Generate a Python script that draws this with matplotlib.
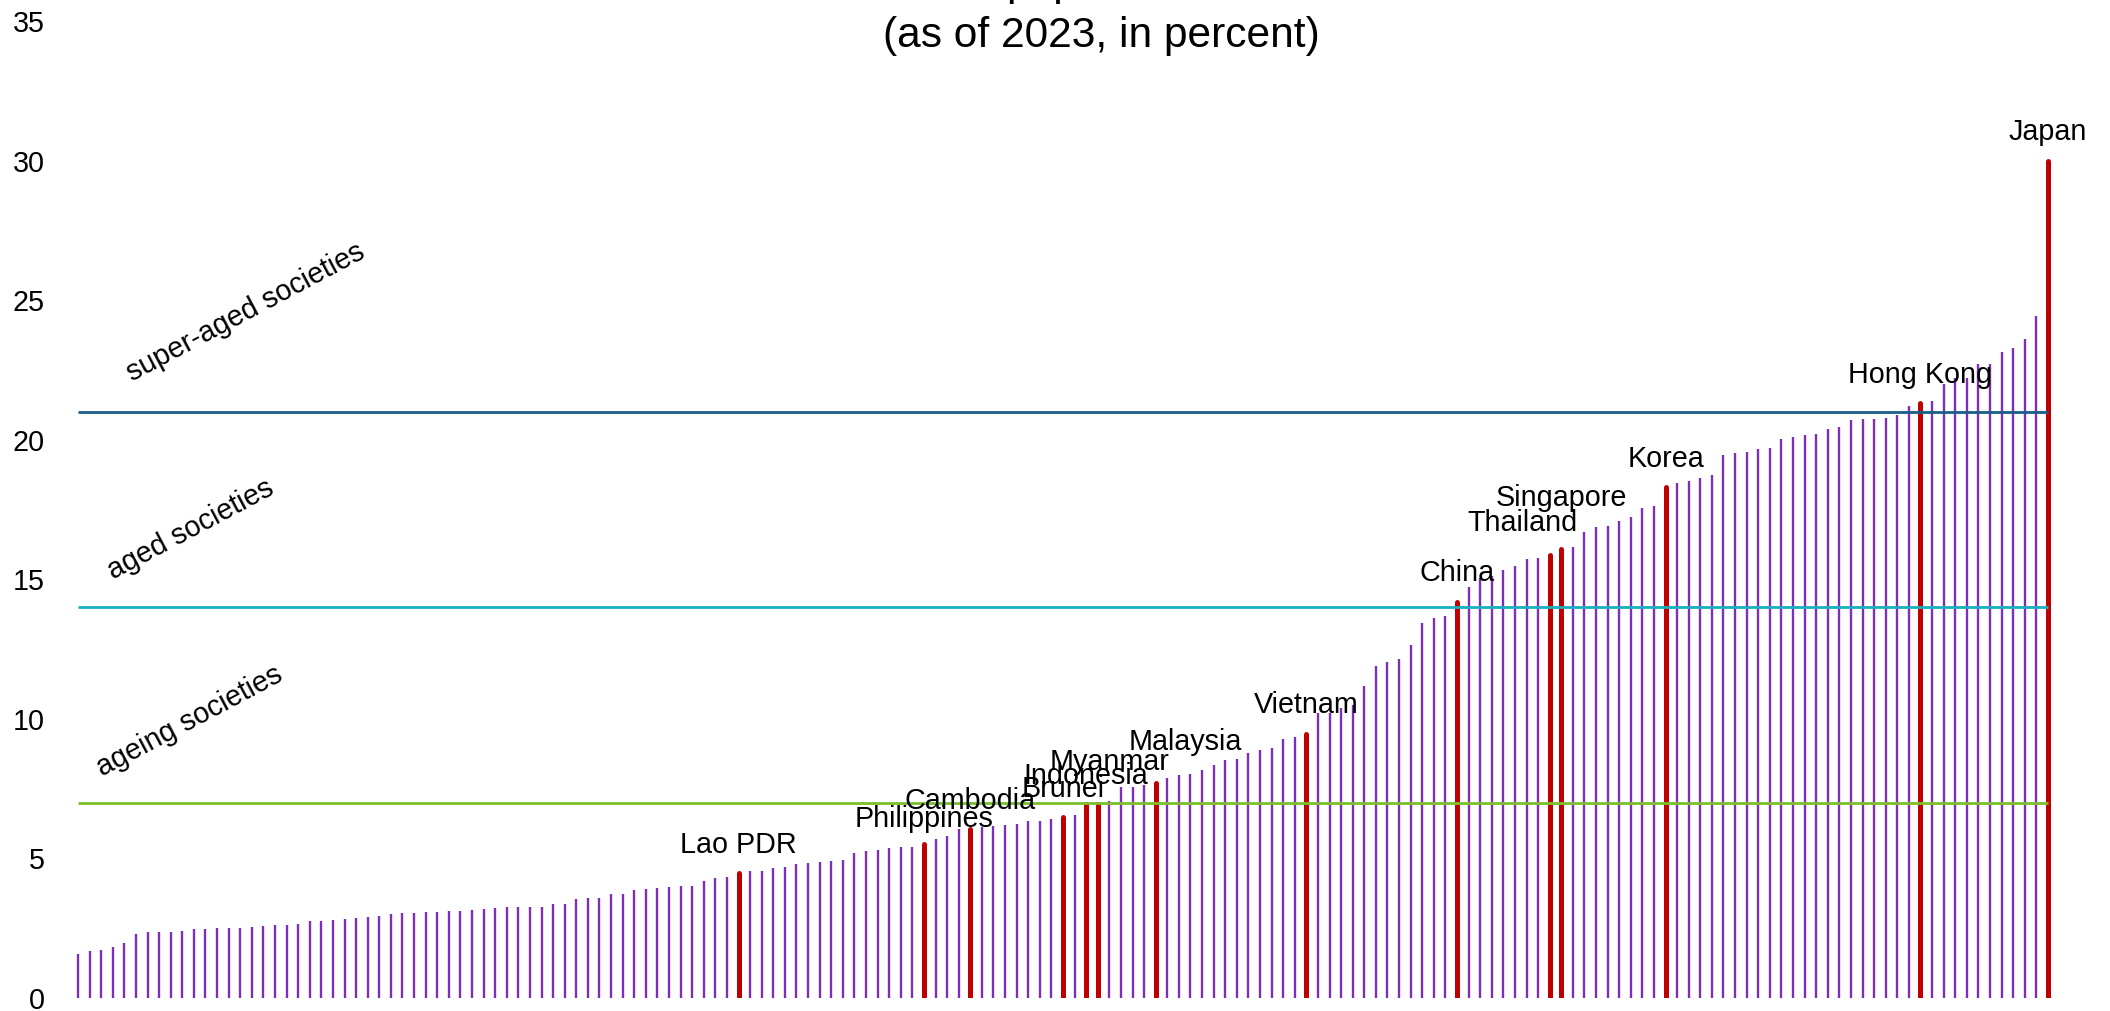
import matplotlib
matplotlib.use("Agg")
import matplotlib.pyplot as plt

# ---------------- data ----------------
values = [
    1.58, 1.68, 1.72, 1.83, 1.96, 2.29, 2.36, 2.36, 2.36, 2.40,
    2.46, 2.48, 2.50, 2.51, 2.51, 2.54, 2.58, 2.62, 2.62, 2.65,
    2.75, 2.76, 2.79, 2.84, 2.86, 2.90, 2.95, 3.01, 3.03, 3.05,
    3.08, 3.09, 3.12, 3.12, 3.14, 3.18, 3.23, 3.26, 3.26, 3.26,
    3.27, 3.36, 3.37, 3.53, 3.60, 3.60, 3.71, 3.72, 3.86, 3.89,
    3.93, 3.98, 4.00, 4.00, 4.19, 4.31, 4.35, 4.49, 4.55, 4.56,
    4.67, 4.70, 4.80, 4.83, 4.87, 4.89, 4.93, 5.20, 5.28, 5.31,
    5.37, 5.41, 5.41, 5.52, 5.71, 5.80, 6.05, 6.06, 6.14, 6.15,
    6.21, 6.22, 6.33, 6.34, 6.42, 6.50, 6.57, 6.95, 6.96, 7.05,
    7.57, 7.57, 7.63, 7.72, 7.89, 7.98, 8.03, 8.17, 8.33, 8.54,
    8.55, 8.77, 8.89, 8.97, 9.28, 9.34, 9.47, 10.22, 10.22, 10.38,
    10.48, 11.17, 11.89, 12.02, 12.14, 12.63, 13.44, 13.63, 13.68, 14.20,
    14.71, 15.05, 15.10, 15.33, 15.47, 15.71, 15.76, 15.88, 16.08, 16.14,
    16.70, 16.88, 16.92, 17.08, 17.22, 17.57, 17.63, 18.32, 18.45, 18.52,
    18.64, 18.72, 19.44, 19.53, 19.57, 19.65, 19.72, 20.02, 20.08, 20.18,
    20.20, 20.40, 20.46, 20.70, 20.73, 20.73, 20.77, 20.89, 21.20, 21.30,
    21.40, 21.99, 22.22, 22.22, 22.73, 22.73, 23.14, 23.29, 23.60, 24.44,
    30.00,
]

highlight_names = ["Lao PDR", "Philippines", "Cambodia", "Brunei", "Indonesia",
                   "Myanmar", "Malaysia", "Vietnam", "China", "Thailand",
                   "Singapore", "Korea", "Hong Kong", "Japan"]
highlight_pos = [58, 74, 78, 86, 88, 89, 94, 107, 120, 128, 129, 138, 160, 171]

# label placement tweaks (bar units / percentage points above bar)
label_dx = [0, 0, 0, 0, 0, 1.0, 2.55, 0, 0, -2.33, 0, 0, 0, 0]
label_dy = [0.71, 0.62, 0.70, 0.71, 0.70, 1.21, 1.16, 0.73, 0.73, 0.85, 1.54, 0.71, 0.72, 0.73]

thresholds = [7, 14, 21]
threshold_colors = ["#7BBF2A", "#19AFBE", "#1A5E87"]
threshold_labels = ["ageing societies", "aged societies", "super-aged societies"]
threshold_label_x = [3.1, 4.06, 5.66]
threshold_label_dy = [0.94, 1.0, 1.08]

yticks = [0, 5, 10, 15, 20, 25, 30, 35]

# ---------------- figure ----------------
plt.rcParams["font.family"] = ["Liberation Sans", "DejaVu Sans"]

W, H, DPI = 2110, 1011, 100
fig = plt.figure(figsize=(W / DPI, H / DPI), dpi=DPI)

step = 11.588
x0 = 78
left_px, right_px = 60, 2095
ax = fig.add_axes([left_px / W, 13 / H, (right_px - left_px) / W, (998 - 21) / H])
ax.set_xlim(1 + (left_px - x0) / step, 1 + (right_px - x0) / step)
ax.set_ylim(0, 35)

n = len(values)
xs = list(range(1, n + 1))
hl = set(highlight_pos)
px = [x for x in xs if x not in hl]
pv = [values[x - 1] for x in px]
ax.vlines(px, 0, pv, colors="#7D2FB8", linewidth=1.7, capstyle="butt", zorder=1)

rv = [values[p - 1] for p in highlight_pos]
ax.vlines(highlight_pos, 0, rv, colors="#C00000", linewidth=3.6, capstyle="round", zorder=2)

for t, c in zip(thresholds, threshold_colors):
    ax.hlines(t, 1, n, colors=c, linewidth=2.0, zorder=3)

for t, lab, lx, dy in zip(thresholds, threshold_labels, threshold_label_x, threshold_label_dy):
    ax.text(lx, t + dy, lab, rotation=28, rotation_mode="anchor",
            ha="left", va="baseline", fontsize=20.7, color="black", zorder=4)

for name, p, dx, dy in zip(highlight_names, highlight_pos, label_dx, label_dy):
    ax.text(p + dx, values[p - 1] + dy, name, ha="center", va="baseline",
            fontsize=20.7, color="black", zorder=4)

ax.set_yticks(yticks)
ax.set_yticklabels([str(v) for v in yticks])
ax.set_xticks([])
ax.tick_params(axis="y", length=0, pad=10.8, labelsize=20.7, labelcolor="black")
for s in ax.spines.values():
    s.set_visible(False)
ax.patch.set_alpha(0)

# title (top line partly outside canvas)
fig.text(1104 / W, 1 + 5 / H, "population", ha="center", va="baseline", fontsize=30.6)
fig.text(1101 / W, 1 - 47 / H, "(as of 2023, in percent)", ha="center", va="baseline", fontsize=30.6)

fig.savefig("out.png", dpi=DPI)
